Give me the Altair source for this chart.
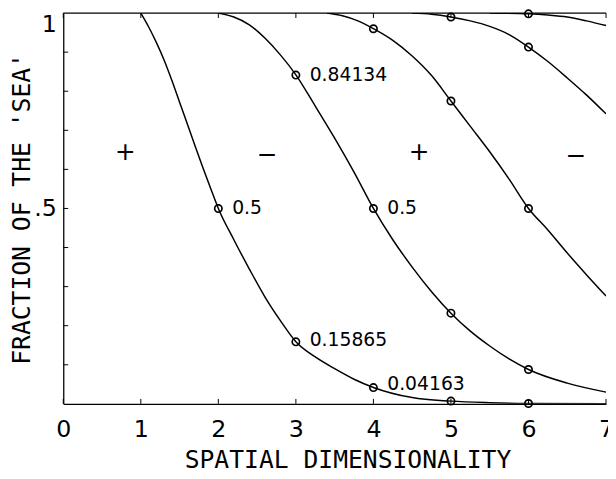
import altair as alt
import pandas as pd

# ---- curve data ----
c1_x = [1.0, 1.1, 1.2, 1.3, 1.4, 1.5, 1.6, 1.7, 1.8, 1.9, 2.0, 2.2, 2.4, 2.6, 2.8, 3.0,
        3.25, 3.5, 3.75, 4.0, 4.5, 5.0, 5.5, 6.0, 7.0]
c1_y = [1.0, 0.965, 0.925, 0.88, 0.828, 0.772, 0.716, 0.66, 0.605, 0.552, 0.5, 0.42,
        0.345, 0.274, 0.213, 0.159, 0.12, 0.09, 0.063, 0.042, 0.016, 0.007, 0.003, 0.001, 0.0]

c2_x = [2.0, 2.2, 2.4, 2.6, 2.8, 3.0, 3.25, 3.5, 3.75, 4.0, 4.25, 4.5, 4.75, 5.0,
        5.25, 5.5, 5.75, 6.0, 6.5, 7.0]
c2_y = [1.0, 0.99, 0.97, 0.936, 0.893, 0.842, 0.762, 0.68, 0.593, 0.5, 0.42, 0.35,
        0.287, 0.232, 0.186, 0.148, 0.115, 0.088, 0.053, 0.03]

c3_x = [3.4, 3.6, 3.8, 4.0, 4.25, 4.5, 4.75, 5.0, 5.25, 5.5, 5.75, 6.0, 6.25, 6.5, 6.75, 7.0]
c3_y = [1.0, 0.993, 0.98, 0.96, 0.93, 0.89, 0.84, 0.775, 0.71, 0.645, 0.575, 0.5,
        0.445, 0.386, 0.33, 0.276]

c4_x = [4.5, 4.75, 5.0, 5.25, 5.5, 5.75, 6.0, 6.25, 6.5, 6.75, 7.0]
c4_y = [1.0, 0.997, 0.99, 0.98, 0.966, 0.945, 0.913, 0.876, 0.834, 0.79, 0.742]

c5_x = [5.5, 6.0, 6.25, 6.5, 6.75, 7.0]
c5_y = [1.0, 0.998, 0.995, 0.99, 0.98, 0.968]

# ---- circle markers ----
pt_x = [2, 3, 4, 5, 6, 3, 4, 5, 6, 4, 5, 6, 5, 6, 6]
pt_y = [0.5, 0.15865, 0.04163, 0.007, 0.001,
        0.84134, 0.5, 0.232, 0.088,
        0.96, 0.775, 0.5,
        0.99, 0.913,
        0.998]

# ---- value annotations ----
ann_text = ["0.5", "0.84134", "0.5"]
ann_x = [2, 3, 4]
ann_y = [0.5, 0.84134, 0.5]
ann2_text = ["0.15865"]
ann2_x = [3]
ann2_y = [0.15865]
ann3_text = ["0.04163"]
ann3_x = [4]
ann3_y = [0.04163]

# ---- region signs ----
sign_text = ["+", "\u2212", "+", "\u2212"]
sign_x = [0.8, 2.63, 4.59, 6.61]
sign_y = [0.645, 0.637, 0.643, 0.635]

# ---- ticks ----
x_ticks = [0, 1, 2, 3, 4, 5, 6, 7]
y_ticks = [0.1, 0.2, 0.3, 0.4, 0.5, 0.6, 0.7, 0.8, 0.9]
y_label_values = [0.5, 1]

W, H = 550, 396
MONO = "DejaVu Sans Mono"
SANS = "DejaVu Sans"

rows = []
for cid, xs, ys in [(1, c1_x, c1_y), (2, c2_x, c2_y), (3, c3_x, c3_y), (4, c4_x, c4_y), (5, c5_x, c5_y)]:
    for a, b in zip(xs, ys):
        rows.append({"curve": cid, "x": a, "y": b})
curves = pd.DataFrame(rows)

xscale = alt.Scale(domain=[0, 7], nice=False, zero=False)
yscale = alt.Scale(domain=[0, 1], nice=False, zero=False)

x_axis = alt.Axis(
    values=x_ticks, format="d", title="SPATIAL DIMENSIONALITY", grid=False, ticks=False, tickSize=0,
    labelFont=SANS, labelFontSize=24, labelFontWeight="normal", labelColor="black",
    labelPadding=14, labelFlush=False, labelOverlap=False,
    domainColor="black", domainWidth=1.3,
    titleFont=MONO, titleFontSize=25, titleFontWeight="normal", titleColor="black",
    titleX=288, titleY=56, titleBaseline="middle", titleAlign="center")
y_axis = alt.Axis(
    values=y_label_values, title="FRACTION OF THE 'SEA'", grid=False, ticks=False, tickSize=0,
    labelExpr="datum.value > 0.99 ? '1' : '.5'",
    labelFont=SANS, labelFontSize=24, labelFontWeight="normal", labelColor="black",
    labelPadding=7, labelFlush=True, labelOverlap=False,
    domainColor="black", domainWidth=1.3,
    titleFont=MONO, titleFontSize=25, titleFontWeight="normal", titleColor="black",
    titleX=-42, titleY=198, titleBaseline="middle", titleAlign="center", titleAngle=-90)

x_enc = alt.X("x:Q", scale=xscale, axis=x_axis)
y_enc = alt.Y("y:Q", scale=yscale, axis=y_axis)

lines = alt.Chart(curves).mark_line(
    interpolate="monotone", color="black", strokeWidth=1.5, clip=True
).encode(x=x_enc, y=y_enc, detail="curve:N")

points = alt.Chart(pd.DataFrame({"x": pt_x, "y": pt_y})).mark_point(
    shape="circle", filled=False, size=55, strokeWidth=1.7, color="black", opacity=1
).encode(x=x_enc, y=y_enc)


def labels(t, xs, ys, dy):
    return alt.Chart(pd.DataFrame({"t": t, "x": xs, "y": ys})).mark_text(
        align="left", baseline="middle", dx=14, dy=dy, font=SANS, fontSize=19, color="black"
    ).encode(x=x_enc, y=y_enc, text="t:N")


ann = labels(ann_text, ann_x, ann_y, 0)
ann2 = labels(ann2_text, ann2_x, ann2_y, -2)
ann3 = labels(ann3_text, ann3_x, ann3_y, -4)

signs = alt.Chart(pd.DataFrame({"t": sign_text, "x": sign_x, "y": sign_y})).mark_text(
    align="center", baseline="middle", font=SANS, fontSize=25, color="black"
).encode(x=x_enc, y=y_enc, text="t:N")

top_border = alt.Chart(pd.DataFrame({"a": [0]})).mark_rule(color="black", strokeWidth=1.3).encode(
    x=alt.datum(0), x2=alt.datum(7), y=alt.datum(1))

xt = pd.DataFrame({"x": x_ticks})
bottom_ticks = alt.Chart(xt).mark_rule(color="black", strokeWidth=1).encode(
    x=x_enc, y=alt.value(H), y2=alt.value(H - 5))
top_ticks = alt.Chart(xt).mark_rule(color="black", strokeWidth=1).encode(
    x=x_enc, y=alt.value(0), y2=alt.value(5))
left_ticks = alt.Chart(pd.DataFrame({"y": y_ticks})).mark_rule(color="black", strokeWidth=1).encode(
    y=y_enc, x=alt.value(0), x2=alt.value(5))

chart = alt.layer(
    lines, top_border, bottom_ticks, top_ticks, left_ticks, points, ann, ann2, ann3, signs
).properties(
    width=W, height=H,
    autosize=alt.AutoSizeParams(type="none"),
    padding={"left": 56, "top": 2, "right": 2, "bottom": 72},
    background="white",
).configure_view(stroke=None)

chart.save("out.html", embed_options={"renderer": "svg", "actions": False})
